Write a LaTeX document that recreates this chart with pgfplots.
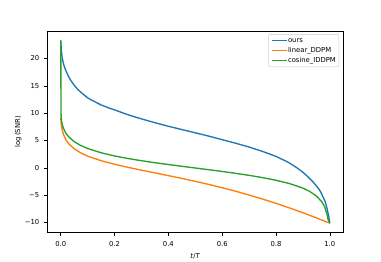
\documentclass[border=0pt]{standalone}
\usepackage{pgfplots}
\pgfplotsset{compat=1.18}
\usepackage{fontspec}
\setmainfont{DejaVu Sans}
\definecolor{tabblue}{HTML}{1F77B4}
\definecolor{taborange}{HTML}{FF7F0E}
\definecolor{tabgreen}{HTML}{2CA02C}
\begin{document}
\begin{tikzpicture}
\path[use as bounding box] (0,0) rectangle (614.6pt,422.6pt);
\begin{axis}[
  at={(76.3pt,47.9pt)}, anchor=south west,
  scale only axis, width=477.4pt, height=324.2pt,
  xmin=-0.05, xmax=1.05, ymin=-11.79, ymax=24.97,
  axis line style={line width=0.9pt},
  tick style={line width=0.9pt, black},
  tick align=outside, major tick length=5.5pt,
  xtick pos=bottom, ytick pos=left,
  xtick={0,0.2,0.4,0.6,0.8,1.0},
  xticklabels={0.0,0.2,0.4,0.6,0.8,1.0},
  ytick={-10,-5,0,5,10,15,20},
  yticklabels={−10,−5,0,5,10,15,20},
  ticklabel style={font=\fontsize{11}{13}\selectfont},
  xticklabel style={yshift=-5pt},
  yticklabel style={xshift=-4pt},
  xlabel={\textit{t}/\textit{T}},
  ylabel={log\,(SNR)},
  label style={font=\fontsize{11}{13}\selectfont},
  xlabel style={at={(axis description cs:0.5,0)}, anchor=north, yshift=-30pt},
  ylabel style={at={(axis description cs:0,0.5)}, anchor=south, rotate=0, yshift=38pt},
  legend cell align=left,
  legend style={at={(axis description cs:1,1)}, xshift=-6.5pt, yshift=-4.4pt, anchor=north east,
    draw=black!20, rounded corners=2pt, line width=0.9pt, fill=white, fill opacity=0.8, text opacity=1,
    font=\fontsize{11}{13}\selectfont, row sep=3.5pt, inner sep=4pt,
    nodes={inner sep=1pt, text height=8pt, text depth=2.5pt}},
  legend image code/.code={\draw[#1, line width=2.2pt] plot coordinates {(0pt,0pt) (24pt,0pt)};},
]
\addplot[tabblue, line width=2.2pt] coordinates {
(0,23.3)(0.002,21.5)(0.005,20.3)(0.008,19.5)(0.012,18.7)(0.018,17.9)(0.027,16.9)
(0.037,16.0)(0.05,15.1)(0.064,14.3)(0.08,13.6)(0.1,12.8)(0.114,12.4)(0.13,12.0)
(0.15,11.5)(0.176,11.0)(0.2,10.6)(0.25,9.7)(0.3,8.95)(0.35,8.25)(0.4,7.6)(0.45,7.0)
(0.5,6.4)(0.55,5.8)(0.6,5.15)(0.65,4.5)(0.7,3.8)(0.75,3.0)(0.8,2.1)(0.846,1.0)
(0.875,0.1)(0.9,-0.8)(0.92,-1.7)(0.94,-2.7)(0.955,-3.6)(0.965,-4.3)(0.975,-5.35)
(0.983,-6.2)(0.99,-7.5)(0.995,-8.6)(0.998,-9.4)(1.0,-10.12)};
\addlegendentry{ours}
\addplot[taborange, line width=2.2pt] coordinates {
(0,9.21)(0.002,7.93)(0.005,7.01)(0.01,6.12)(0.02,5.07)(0.03,4.387)(0.05,3.475)
(0.075,2.71)(0.1,2.144)(0.15,1.301)(0.2,0.647)(0.25,0.086)(0.3,-0.431)(0.35,-0.929)
(0.4,-1.427)(0.45,-1.938)(0.5,-2.473)(0.55,-3.038)(0.6,-3.640)(0.65,-4.285)
(0.7,-4.974)(0.75,-5.710)(0.8,-6.495)(0.85,-7.330)(0.9,-8.215)(0.95,-9.151)(1.0,-10.117)};
\addlegendentry{linear\_DDPM}
\addplot[tabgreen, line width=2.2pt] coordinates {
(0,23.3)(0.001,10.09)(0.002,8.885)(0.005,8.045)(0.01,7.234)(0.02,6.271)(0.03,5.642)
(0.05,4.786)(0.075,4.065)(0.1,3.532)(0.15,2.752)(0.2,2.173)(0.25,1.703)(0.3,1.299)
(0.35,0.937)(0.4,0.602)(0.45,0.282)(0.5,-0.031)(0.55,-0.345)(0.6,-0.667)(0.65,-1.005)
(0.7,-1.376)(0.75,-1.792)(0.8,-2.277)(0.85,-2.877)(0.9,-3.709)(0.925,-4.311)
(0.95,-5.140)(0.97,-6.192)(0.98,-7.039)(0.99,-8.534)(0.993,-9.345)(1.0,-10.12)};
\addlegendentry{cosine\_IDDPM}
\end{axis}
\end{tikzpicture}
\end{document}
